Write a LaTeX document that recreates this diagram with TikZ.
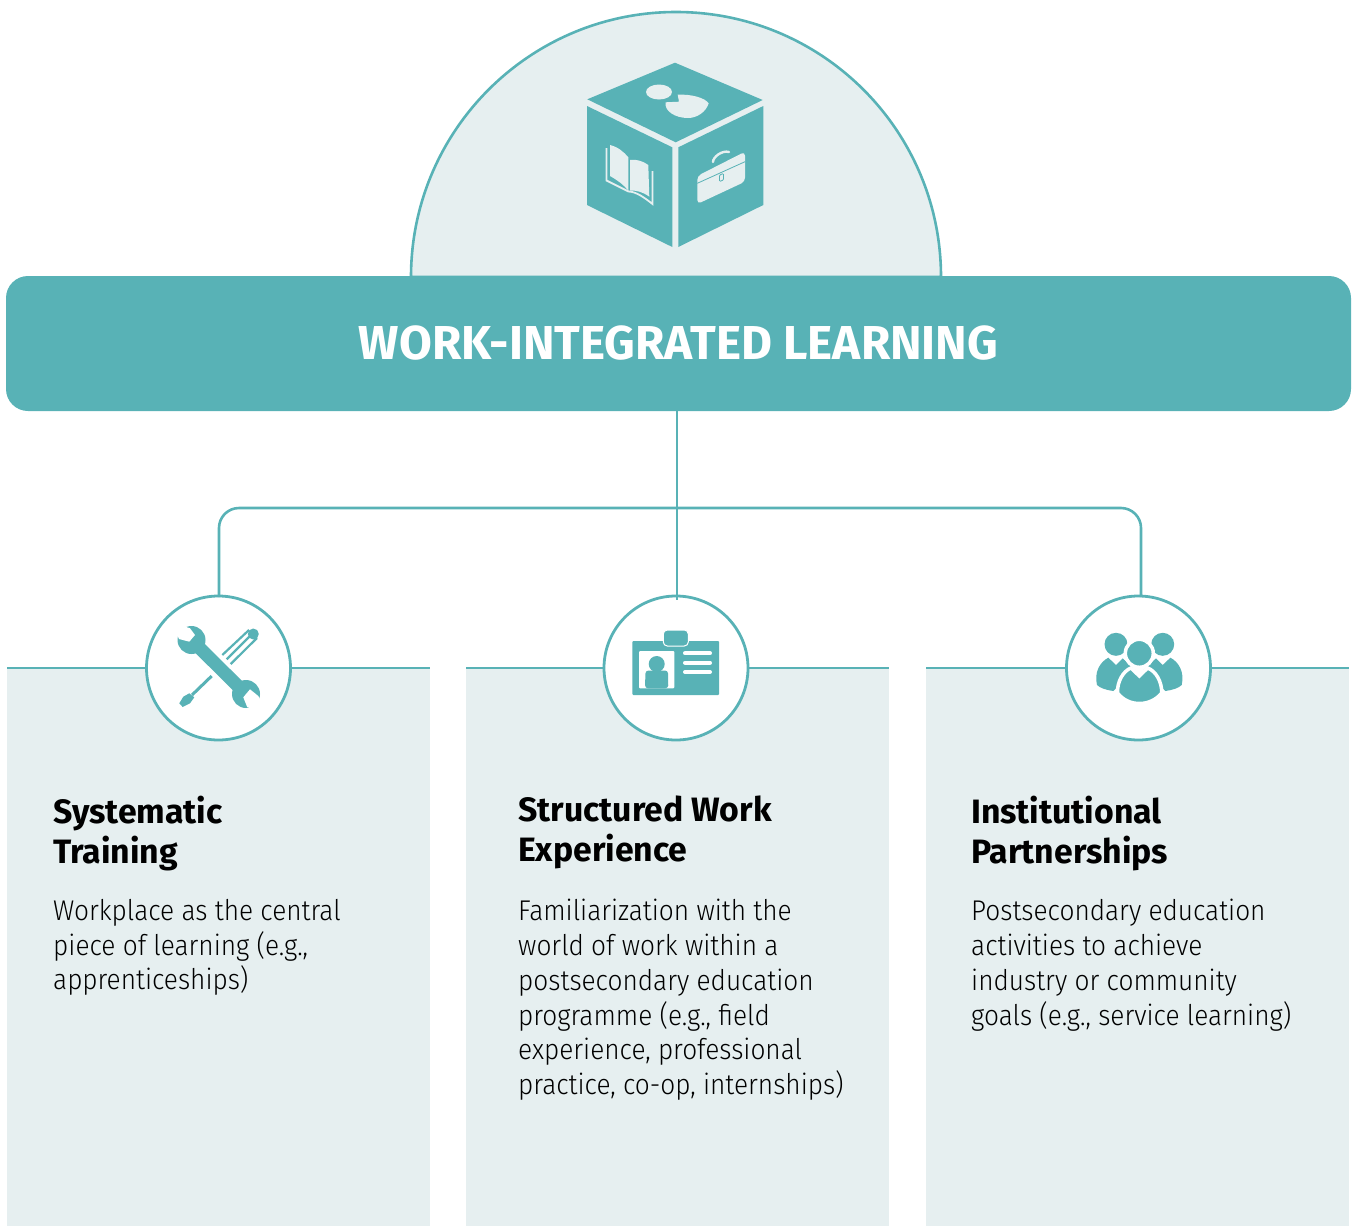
\documentclass[tikz,border=0pt]{standalone}
\usepackage{fontspec}
\setmainfont{Fira Sans}[UprightFont=* Light,BoldFont=* Bold,UprightFeatures={FakeStretch=0.92}]
\definecolor{wilteal}{HTML}{58B2B6}
\definecolor{wilpale}{HTML}{E6EFF0}
\tikzset{
  link/.style={draw=wilteal,line width=2.6pt},
  panel/.style={fill=wilpale,anchor=north west,minimum width=423pt,minimum height=558pt,inner sep=0pt,outer sep=0pt},
  iconring/.style={circle,draw=wilteal,fill=white,line width=2.8pt,minimum size=144pt,inner sep=0pt,outer sep=0pt},
  headtext/.style={anchor=north west,align=left,inner sep=0pt,font=\fontsize{33.8}{40}\selectfont\bfseries},
  bodytext/.style={anchor=north west,align=left,inner sep=0pt,font=\fontsize{28.5}{34.8}\selectfont},
  ink/.style={fill=wilteal,draw=none},
  paper/.style={fill=wilpale,draw=none}
}
\begin{document}
\begin{tikzpicture}[x=1pt,y=-1pt]
   \useasboundingbox (0,0) rectangle (1352,1226);
   % dome and banner
   \draw[link,fill=wilpale] (411,277) arc[start angle=180,end angle=360,radius=265] -- cycle;
   \node[fill=wilteal,rounded corners=22pt,minimum width=1345pt,minimum height=135pt,inner sep=0pt,outer sep=0pt,
         text=white,font=\fontsize{47.6}{50}\selectfont\bfseries] (banner) at (678.5,343.5) {WORK-INTEGRATED LEARNING};
   % cube
   \fill[ink] (675,62.7) -- (762.7,100) -- (675.7,142.3) -- (587.3,99.3) -- cycle;
   \fill[ink] (587,106) -- (672.3,147.3) -- (672.3,247) -- (587,205) -- cycle;
   \fill[ink] (763.3,106) -- (678.3,147.3) -- (678.3,247) -- (763.3,205) -- cycle;
   \fill[paper] (659,92) ellipse[x radius=13,y radius=7.5];
   \fill[paper] (679,101.7) -- (677.7,94.7) .. controls (692,94) and (705,98) .. (708.7,103.3)
      .. controls (706,112) and (697,118) .. (688,118) .. controls (675,118) and (664,111) .. (665.7,102.3) -- cycle;
   \fill[paper] (610,145) .. controls (618,147) and (624,152) .. (628.3,157.3) -- (628.3,190.7) .. controls (623,184) and (617,180) .. (610,176) -- cycle;
   \fill[paper] (630,160) .. controls (636,159) and (643,161) .. (648.3,165) -- (649.3,196.7) .. controls (643,192) and (636,190) .. (630,190.7) -- cycle;
   \draw[wilpale,line width=1.8pt] (606.5,148) -- (606.5,180.5) -- (628.5,191.5) .. controls (636,191.5) and (645,198) .. (652.5,204) -- (652.5,171);
   \fill[paper,rounded corners=4pt] (697.3,176) -- (745,151.7) -- (745,181.7) -- (697.3,204) -- cycle;
   \draw[wilteal,line width=0.8pt] (697.3,183.3) -- (745,161.7);
   \draw[wilteal,fill=wilpale,line width=0.8pt,rounded corners=1pt] (719.5,175) -- (723.5,173.5) -- (723.5,180) -- (719.5,181.5) -- cycle;
   \draw[wilpale,line width=2.4pt,line cap=round] (713,162) .. controls (713,157) and (722,150) .. (729,152);
   % panels
   \node[panel] (panelA) at (7,668) {};
   \node[panel] (panelB) at (466,668) {};
   \node[panel] (panelC) at (926,668) {};
   \draw[link] (panelA.north west) -- (panelA.north east);
   \draw[link] (panelB.north west) -- (panelB.north east);
   \draw[link] (panelC.north west) -- (panelC.north east);
   \node[iconring] (ringA) at (218.5,668) {};
   \node[iconring] (ringB) at (676,668) {};
   \node[iconring] (ringC) at (1138.5,668) {};
   % connectors
   \coordinate (stemtop) at (677,411);
   \coordinate (stemend) at (677,600);
   \coordinate (branchA) at (219,597);
   \coordinate (branchC) at (1141,597);
   \draw[link] (stemtop) -- (stemend);
   \draw[link,rounded corners=20pt] (branchA) -- (219,508) -- (1141,508) -- (branchC);
   % tools
   \draw[wilteal,line width=13pt] (191.5,640) -- (246,694);
   \fill[ink] (191.5,640) circle[radius=14];
   \fill[ink] (246,694) circle[radius=14];
   \fill[white] (190,628.3) -- (195,635) -- (189.3,641.7) -- (179,639) -- (172,622) -- cycle;
   \fill[white] (258.3,696) -- (250,689.3) -- (243.3,697.3) -- (247.3,707.3) -- (266,712) -- cycle;
   \fill[ink] (253.3,634) circle[radius=5.5];
   \draw[wilteal,line width=2.2pt] (249,630) -- (222.3,655);
   \draw[wilteal,line width=2.2pt] (252,634) -- (226.7,659.3);
   \draw[wilteal,line width=2.2pt] (257,638) -- (230.7,664);
   \draw[wilteal,line width=3pt] (211.7,676) -- (192,695);
   \fill[ink] (189.3,693.3) -- (194.3,697.3) -- (190,703.3) -- (182.7,707) -- (179.3,703.3) -- (183.3,696.7) -- cycle;
   % id card
   \fill[ink,rounded corners=1pt] (632.3,641) rectangle (719,695);
   \draw[white,fill=wilteal,line width=1pt,rounded corners=4pt] (663.3,630) rectangle (688.3,646);
   \fill[white,rounded corners=1pt] (639,651) rectangle (674.3,688.3);
   \fill[ink] (656.7,664) circle[radius=8];
   \fill[ink,rounded corners=3pt] (645,688.3) -- (645.5,670.5) -- (668,670.5) -- (668.3,688.3) -- cycle;
   \draw[white,line width=4pt,line cap=round] (685,653.3) -- (710,653.3);
   \draw[white,line width=4pt,line cap=round] (685,662.7) -- (710,662.7);
   \draw[white,line width=4pt,line cap=round] (685,672) -- (710,672);
   % people
   \fill[ink] (1116,644.3) circle[radius=11.5];
   \fill[ink] (1162.7,644.3) circle[radius=11.5];
   \fill[ink] (1108.3,657.7) -- (1116,665) -- (1122.7,658.3) -- (1135,670) -- (1113.3,691)
      .. controls (1106,690) and (1100,688) .. (1097,685) .. controls (1094,672) and (1100,662) .. (1108.3,657.7) -- cycle;
   \fill[ink] (1170.4,657.7) -- (1162.7,665) -- (1156,658.3) -- (1143.7,670) -- (1165.4,691)
      .. controls (1172.7,690) and (1178.7,688) .. (1181.7,685) .. controls (1184.7,672) and (1178.7,662) .. (1170.4,657.7) -- cycle;
   \draw[white,fill=wilteal,line width=3.5pt] (1131,668) -- (1139.3,676) -- (1147.6,668)
      .. controls (1156,671) and (1162,682) .. (1161.7,693) .. controls (1156,700) and (1148,703.5) .. (1139.3,703.5)
      .. controls (1131,703.5) and (1123,700) .. (1117.5,693) .. controls (1117,682) and (1123,671) .. (1131,668) -- cycle;
   \draw[white,fill=wilteal,line width=3.5pt] (1139.3,653.3) circle[radius=14];
   % texts
   \node[headtext] (headA) at (53,796) {Systematic\\Training};
   \node[headtext] (headB) at (518,796) {Structured Work\\Experience};
   \node[headtext] (headC) at (971,796) {Institutional\\Partnerships};
   \node[bodytext] (bodyA) at (53,899) {Workplace as the central\\piece of learning (e.g.,\\apprenticeships)};
   \node[bodytext] (bodyB) at (518,899) {Familiarization with the\\world of work within a\\postsecondary education\\programme (e.g., field\\experience, professional\\practice, co-op, internships)};
   \node[bodytext] (bodyC) at (971,899) {Postsecondary education\\activities to achieve\\industry or community\\goals (e.g., service learning)};
\end{tikzpicture}
\end{document}
